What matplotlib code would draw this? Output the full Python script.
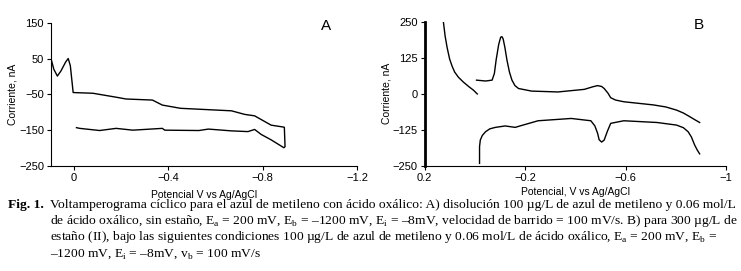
import numpy as np
import matplotlib
matplotlib.use("Agg")
import matplotlib.pyplot as plt

plt.rcParams['font.family'] = ['Liberation Sans', 'DejaVu Sans']
plt.rcParams['mathtext.fontset'] = 'custom'
plt.rcParams['mathtext.rm'] = 'Liberation Serif'

# panel A: ciclo sin estaño
a_pot = [-0.011, -0.025, -0.109, -0.179, -0.25, -0.375, -0.385, -0.53, -0.57, -0.668, -0.738,
         -0.766, -0.794, -0.836, -0.89, -0.895, -0.892, -0.885, -0.836, -0.766, -0.724, -0.668,
         -0.452, -0.375, -0.333, -0.221, -0.179, -0.081, 0.003, 0.015, 0.024, 0.035, 0.055,
         0.07, 0.085, 0.097]
a_cur = [-143, -145, -151, -145, -150, -145, -150, -151, -147, -152, -154,
         -148, -162, -177, -199, -196, -142, -141, -136, -110, -106, -96,
         -89, -80, -66, -63, -58, -47, -45, 30, 50, 40, 15,
         1, 20, 50]

# panel B: con estaño (II)
b_pot1 = [0.125, 0.118, 0.11, 0.1, 0.09, 0.08, 0.065, 0.045, 0.023, 0.005, -0.010]
b_cur1 = [250, 200, 160, 120, 95, 75, 57, 40, 24, 12, -1]
b_pot2 = [-0.007, -0.043, -0.069, -0.078, -0.085, -0.095, -0.103, -0.108, -0.113, -0.12,
          -0.128, -0.138, -0.148, -0.16, -0.174, -0.226, -0.331, -0.436, -0.47, -0.489,
          -0.505, -0.515, -0.53, -0.541, -0.56, -0.593, -0.711, -0.76, -0.803, -0.83,
          -0.856, -0.875, -0.895]
b_cur2 = [47, 44, 47, 70, 117, 170, 196, 198, 190, 160,
          117, 75, 47, 28, 18, 9, 6, 15, 24, 28,
          25, 18, 2, -14, -22, -28, -39, -46, -57, -67,
          -80, -90, -100]
b_pot3 = [-0.895, -0.885, -0.875, -0.862, -0.849, -0.83, -0.803, -0.725, -0.593, -0.541,
          -0.528, -0.515, -0.505, -0.495, -0.489, -0.478, -0.462, -0.384, -0.252, -0.180,
          -0.161, -0.121, -0.082, -0.06, -0.043, -0.03, -0.022, -0.019, -0.019]
b_cur3 = [-209, -195, -178, -150, -132, -118, -109, -100, -94, -103,
          -130, -161, -168, -160, -138, -112, -94, -86, -94, -112,
          -117, -112, -117, -122, -132, -145, -161, -184, -242]

fig = plt.figure(figsize=(7.41, 2.71), dpi=100)

axA = fig.add_axes([0.0688, 0.3875, 0.413, 0.5288])
axA.plot(a_pot, a_cur, color='black', lw=1.0)
axA.set_xlim(0.097, -1.2)
axA.set_ylim(-250, 150)
axA.set_xticks([0, -0.4, -0.8, -1.2])
axA.set_xticklabels(['0', '\u22120.4', '\u22120.8', '\u22121.2'])
axA.set_yticks([150, 50, -50, -150, -250])
axA.set_yticklabels(['150', '50', '\u221250', '\u2212150', '\u2212250'])
axA.set_xlabel('Potencial V vs Ag/AgCl', fontsize=7.5, labelpad=5)
axA.set_ylabel('Corriente, nA', fontsize=7.5, labelpad=1)
axA.text(0.9, 0.98, 'A', transform=axA.transAxes, fontsize=11, ha='center', va='center')

axB = fig.add_axes([0.5729, 0.3886, 0.4069, 0.5314])
axB.plot(b_pot1, b_cur1, color='black', lw=1.0)
axB.plot(b_pot2, b_cur2, color='black', lw=1.0)
axB.plot(b_pot3, b_cur3, color='black', lw=1.0)
axB.set_xlim(0.196, -1.0)
axB.set_ylim(-250, 250)
axB.set_xticks([0.2, -0.2, -0.6, -1.0])
axB.set_xticklabels(['0.2', '\u22120.2', '\u22120.6', '\u22121'])
axB.set_yticks([250, 125, 0, -125, -250])
axB.set_yticklabels(['250', '125', '0', '\u2212125', '\u2212250'])
axB.set_xlabel('Potencial, V vs Ag/AgCl', fontsize=7.5, labelpad=3)
axB.set_ylabel('Corriente, nA', fontsize=7.5, labelpad=0.5)
axB.spines['left'].set_linewidth(2.0)
axB.text(0.91, 0.98, 'B', transform=axB.transAxes, fontsize=11, ha='center', va='center')

for ax in (axA, axB):
    ax.spines['top'].set_visible(False)
    ax.spines['right'].set_visible(False)
    ax.tick_params(direction='out', length=3, labelsize=8, pad=2)

# pie de figura
cap = [
    'Voltamperograma cíclico para el azul de metileno con ácido oxálico: A) disolución 100 µg/L de azul de metileno y 0.06 mol/L',
    'de ácido oxálico, sin estaño, E$_\\mathregular{a}$ = 200 mV, E$_\\mathregular{b}$ = –1200 mV, E$_\\mathregular{i}$ = –8mV, velocidad de barrido = 100 mV/s. B) para 300 µg/L de',
    'estaño (II), bajo las siguientes condiciones 100 µg/L de azul de metileno y 0.06 mol/L de ácido oxálico, E$_\\mathregular{a}$ = 200 mV, E$_\\mathregular{b}$ =',
    '–1200 mV, E$_\\mathregular{i}$ = –8mV, v$_\\mathregular{b}$ = 100 mV/s',
]
fig.text(8 / 741, 1 - 208 / 271, 'Fig. 1.', family='Liberation Serif', fontweight='bold',
         fontsize=9.7, va='baseline')
for i, line in enumerate(cap):
    fig.text(50 / 741, 1 - (208 + 16.2 * i) / 271, line, family='Liberation Serif',
             fontsize=9.7, va='baseline')

fig.savefig('out.png', dpi=100)
